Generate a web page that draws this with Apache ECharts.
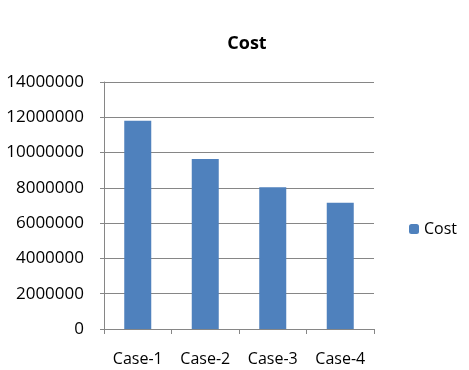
<!DOCTYPE html>
<html>
<head>
<meta charset="utf-8">
<script src="https://cdn.jsdelivr.net/npm/echarts@6/dist/echarts.min.js"></script>
<style>
  html, body { margin: 0; padding: 0; background: #fff; }
  #chart { width: 469px; height: 370px; }
</style>
</head>
<body>
<div id="chart"></div>
<script>
var categories = ['Case-1', 'Case-2', 'Case-3', 'Case-4'];
var costValues = [11800000, 9630000, 8030000, 7150000];
var seriesName = 'Cost';

var font = 'Open Sans, Liberation Sans, sans-serif';
var myChart = echarts.init(document.getElementById('chart'));

var options = {
  backgroundColor: '#fff',
  animation: false,
  title: {
    text: 'Cost',
    left: 242,
    textAlign: 'center',
    top: 30,
    textStyle: { fontFamily: font, fontSize: 18, fontWeight: 'bold', color: '#000' }
  },
  legend: {
    data: [seriesName],
    orient: 'vertical',
    left: 404,
    top: 216,
    itemWidth: 10,
    itemHeight: 10,
    itemGap: 5,
    textStyle: { fontFamily: font, fontSize: 16, color: '#000' }
  },
  grid: { left: 104, right: 95, top: 82, bottom: 41, containLabel: false },
  xAxis: {
    type: 'category',
    data: categories,
    axisLine: { lineStyle: { color: '#868686', width: 1 } },
    axisTick: { show: true, alignWithLabel: false, length: 5, lineStyle: { color: '#868686' } },
    axisLabel: { interval: 0, fontFamily: font, fontSize: 16, color: '#000', margin: 22 }
  },
  yAxis: {
    type: 'value',
    min: 0,
    max: 14000000,
    interval: 2000000,
    axisLine: { show: true, lineStyle: { color: '#868686', width: 1 } },
    axisTick: { show: true, length: 4, lineStyle: { color: '#868686' } },
    axisLabel: {
      fontFamily: font, fontSize: 17, color: '#000', margin: 20,
      formatter: function (v) { return String(v); }
    },
    splitLine: { lineStyle: { color: '#868686', width: 1 } }
  },
  series: [{
    name: seriesName,
    type: 'bar',
    data: costValues,
    barWidth: '40%',
    itemStyle: { color: '#4F81BD' }
  }]
};

myChart.setOption(options);
</script>
</body>
</html>
